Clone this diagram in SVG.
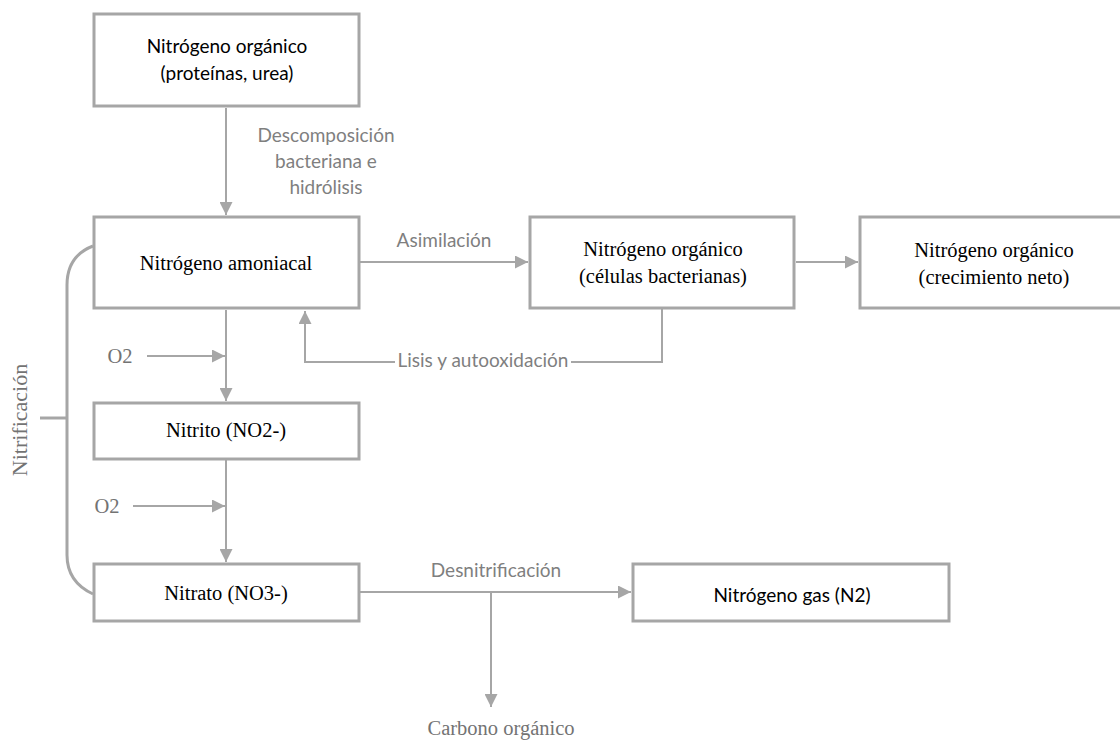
<svg xmlns="http://www.w3.org/2000/svg" width="1120" height="741" viewBox="0 0 1120 741">
<style>
.box{fill:#fff;stroke:#a6a6a6;stroke-width:3}
.ln{fill:none;stroke:#a6a6a6;stroke-width:2}
.br{fill:none;stroke:#a6a6a6;stroke-width:3}
.serif{font-family:"Liberation Serif","Times New Roman",serif;font-size:20.5px;fill:#000;text-anchor:middle}
.sans{font-family:Lato,"Liberation Sans",sans-serif;font-size:19px;fill:#000;text-anchor:middle}
.lbl{font-family:Lato,"Liberation Sans",sans-serif;font-size:19px;fill:#7f7f7f;text-anchor:middle}
.slbl{font-family:"Liberation Serif","Times New Roman",serif;font-size:20.5px;fill:#737373;text-anchor:middle}
</style>
<defs>
<marker id="ah" markerUnits="userSpaceOnUse" markerWidth="13" markerHeight="13" refX="13" refY="6.5" orient="auto">
<path d="M0,0 L13,6.5 L0,13 z" fill="#a6a6a6"/>
</marker>
</defs>
<rect width="1120" height="741" fill="#fff"/>
<g id="connectors">
<line class="ln" x1="226" y1="108" x2="226" y2="215" marker-end="url(#ah)"/>
<line class="ln" x1="360" y1="262" x2="528" y2="262" marker-end="url(#ah)"/>
<line class="ln" x1="796" y1="262" x2="858" y2="262" marker-end="url(#ah)"/>
<polyline class="ln" points="662,309 662,362 571,362"/>
<polyline class="ln" points="395,362 305,362 305,311" marker-end="url(#ah)"/>
<line class="ln" x1="226" y1="310" x2="226" y2="401" marker-end="url(#ah)"/>
<line class="ln" x1="147" y1="356" x2="225" y2="356" marker-end="url(#ah)"/>
<line class="ln" x1="226" y1="460" x2="226" y2="562" marker-end="url(#ah)"/>
<line class="ln" x1="133" y1="506" x2="225" y2="506" marker-end="url(#ah)"/>
<line class="ln" x1="360" y1="592" x2="631" y2="592" marker-end="url(#ah)"/>
<line class="ln" x1="491" y1="592" x2="491" y2="707" marker-end="url(#ah)"/>
<path class="br" d="M93,246 Q67,256 67,285 V555 Q67,582 93,594"/>
<line class="br" x1="40" y1="418" x2="67" y2="418"/>
</g>
<g id="labels">
<text class="lbl"><tspan x="326" y="142">Descomposición</tspan><tspan x="326" y="168">bacteriana e</tspan><tspan x="326" y="194">hidrólisis</tspan></text>
<text class="lbl" x="444" y="247">Asimilación</text>
<text class="lbl" x="483" y="367">Lisis y autooxidación</text>
<text class="slbl" x="120" y="363">O2</text>
<text class="slbl" x="107" y="513">O2</text>
<text class="slbl" style="font-size:22px" transform="translate(27,420) rotate(-90)" x="0" y="0">Nitrificación</text>
<text class="lbl" x="496" y="577">Desnitrificación</text>
<text class="slbl" x="501" y="735">Carbono orgánico</text>
</g>
<g id="n1">
<rect class="box" x="94" y="14" width="265" height="92"/>
<text class="sans"><tspan x="227" y="53">Nitrógeno orgánico</tspan><tspan x="227" y="80">(proteínas, urea)</tspan></text>
</g>
<g id="n2">
<rect class="box" x="94" y="217" width="265" height="91"/>
<text class="serif" x="226" y="270">Nitrógeno amoniacal</text>
</g>
<g id="n3">
<rect class="box" x="530" y="217" width="264" height="91"/>
<text class="serif"><tspan x="663" y="256">Nitrógeno orgánico</tspan><tspan x="663" y="283">(células bacterianas)</tspan></text>
</g>
<g id="n4">
<rect class="box" x="860" y="217" width="270" height="91"/>
<text class="serif"><tspan x="994" y="257">Nitrógeno orgánico</tspan><tspan x="994" y="284">(crecimiento neto)</tspan></text>
</g>
<g id="n5">
<rect class="box" x="94" y="403" width="265" height="56"/>
<text class="serif" x="226" y="437">Nitrito (NO2-)</text>
</g>
<g id="n6">
<rect class="box" x="94" y="564" width="265" height="57"/>
<text class="serif" x="226" y="600">Nitrato (NO3-)</text>
</g>
<g id="n7">
<rect class="box" x="633" y="564" width="316" height="57"/>
<text class="sans" x="792" y="602">Nitrógeno gas (N2)</text>
</g>
</svg>
